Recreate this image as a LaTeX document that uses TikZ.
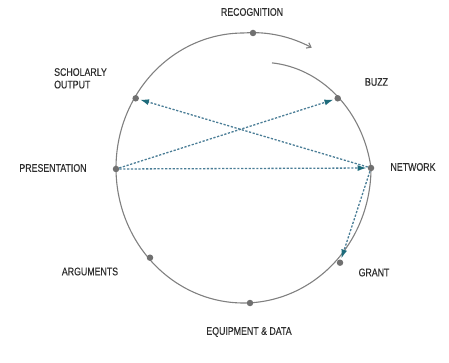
\documentclass[tikz,border=0pt]{standalone}
\usepackage{fontspec}
\newfontfamily\lblfont[FakeStretch=0.8,FakeBold=0.4]{Liberation Sans}
\usetikzlibrary{arrows.meta}
\definecolor{ringgray}{HTML}{808080}
\definecolor{dotgray}{HTML}{707070}
\definecolor{linkblue}{HTML}{4A7D96}
\definecolor{tipteal}{HTML}{1E6B7B}
\definecolor{txtgray}{HTML}{2E2E2E}
\tikzset{
  ring/.style={draw=ringgray, line width=1.1pt},
  stagedot/.style={circle, fill=dotgray, inner sep=0pt, minimum size=6.5pt},
  lbl/.style={font=\lblfont\fontsize{11}{12.5}\selectfont, text=txtgray, inner sep=1pt, align=left},
  link/.style={draw=linkblue, line width=1.3pt, dash pattern=on 2.2pt off 1.6pt, shorten >=1pt,
    -{Latex[length=9pt,width=6pt,fill=tipteal,color=tipteal]}},
}
\begin{document}
\begin{tikzpicture}[x=1pt,y=-1pt]
\useasboundingbox (0,0) rectangle (449,363);
% spiral ring
\draw[ring, -{Straight Barb[length=4pt,width=6pt]}] plot[domain=74:-301, samples=160, variable=\t, smooth]
  ({243.5+127.5*(1-0.19*max(\t,0)/74+0.04*max(-270-\t,0)/31)*cos(\t)},
   {168-135*(1-0.19*max(\t,0)/74+0.04*max(-270-\t,0)/31)*sin(\t)});
% stage dots
\node[stagedot] (rec) at (253,33) {};
\node[stagedot] (buzz) at (337.7,98.3) {};
\node[stagedot] (net) at (371,168) {};
\node[stagedot] (grant) at (340,262.7) {};
\node[stagedot] (equip) at (250,303) {};
\node[stagedot] (arg) at (150,257.7) {};
\node[stagedot] (pres) at (116,169) {};
\node[stagedot] (schol) at (135.7,98.3) {};
% labels
\node[lbl] (lrec) at (252,12) {RECOGNITION};
\node[lbl] (lbuzz) at (376.5,82) {BUZZ};
\node[lbl] (lnet) at (413,167) {NETWORK};
\node[lbl, anchor=north west] (lschol) at (53,67) {SCHOLARLY\\OUTPUT};
\node[lbl] (lpres) at (53,168) {PRESENTATION};
\node[lbl] (lgrant) at (374,272.5) {GRANT};
\node[lbl] (larg) at (90,271.5) {ARGUMENTS};
\node[lbl] (lequip) at (249,332) {EQUIPMENT \& DATA};
% links
\draw[link] (pres) -- (buzz);
\draw[link] (net) -- (schol);
\draw[link] (pres) -- (net);
\draw[link] (net) -- (grant);
\end{tikzpicture}
\end{document}
